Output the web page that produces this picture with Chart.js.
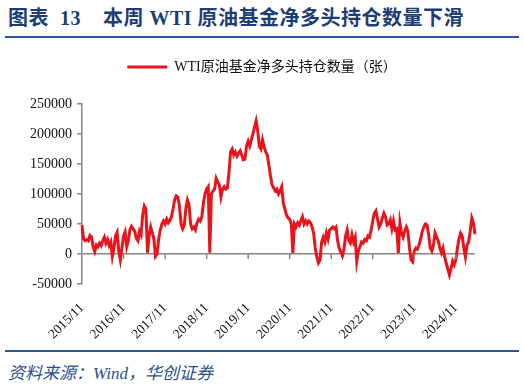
<!DOCTYPE html>
<html>
<head>
<meta charset="utf-8">
<script src="https://cdn.jsdelivr.net/npm/chart.js@4.4.1/dist/chart.umd.min.js"></script>
<style>
  body { margin: 0; width: 524px; height: 387px; background: #fff; position: relative; overflow: hidden;
         font-family: 'Liberation Serif', 'Noto Sans CJK SC', serif; }
  #title { position: absolute; left: 8px; top: 2px; font-size: 20px; font-weight: bold; color: #1c3d76;
           white-space: pre; letter-spacing: 0.5px; }
  .rule { position: absolute; left: 5px; width: 514px; height: 2px; background: #2c5696; }
  #chartBox { position: absolute; left: 0; top: 44px; width: 524px; height: 300px; }
  #source { position: absolute; left: 8px; top: 359px; font-size: 17px; font-style: italic; color: #2b4f8c; }
</style>
</head>
<body>
<div id="title">图表  13    本周 WTI 原油基金净多头持仓数量下滑</div>
<div class="rule" style="top:36px"></div>
<div id="chartBox"><canvas id="wtiChart"></canvas></div>
<div class="rule" style="top:350px"></div>
<div id="source">资料来源：Wind，华创证券</div>

<script>
// WTI crude fund net long positions, biweekly, 2015/11 - 2025/05 (contracts)
const seriesName = 'WTI原油基金净多头持仓数量（张）';
const yearTicks = ['2015/11', '2016/11', '2017/11', '2018/11', '2019/11',
                   '2020/11', '2021/11', '2022/11', '2023/11', '2024/11'];
const perYear = 26;

const netLong = [
  // 2015/11 -
  48000, 25000, 22000, 24000, 22000, 31000, 28000, 12000, 4000, 15000, 12000, 18000, 14000,
  22000, 28000, 18000, 24000, 14000, 20000, -4000, 10000, 30000, 36000, 5000, -10000, 10000,
  // 2016/11 -
  30000, 37000, 12000, 22000, 40000, 46000, 42000, 38000, 26000, 22000, 38000, 32000, 65000,
  80000, 75000, 2000, 30000, 45000, 35000, 25000, -4000, 0, 25000, 40000, 50000, 55000,
  // 2017/11 -
  50000, 58000, 52000, 56000, 62000, 75000, 90000, 97000, 95000, 80000, 50000, 42000, 48000,
  75000, 90000, 82000, 50000, 42000, 45000, 40000, 52000, 58000, 55000, 62000, 85000, 100000,
  // 2018/11 -
  108000, 112000, 2000, 100000, 105000, 108000, 126000, 120000, 115000, 95000, 108000, 112000, 108000,
  110000, 135000, 170000, 175000, 165000, 170000, 163000, 168000, 172000, 165000, 157000, 158000, 180000,
  // 2019/11 -
  188000, 180000, 190000, 200000, 212000, 222000, 205000, 180000, 175000, 190000, 178000, 170000, 165000,
  148000, 130000, 115000, 110000, 105000, 108000, 100000, 105000, 112000, 85000, 75000, 65000, 60000,
  // 2020/11 -
  58000, 50000, 2000, 50000, 45000, 52000, 48000, 55000, 62000, 50000, 55000, 50000, 55000,
  52000, 45000, 35000, 10000, -5000, -15000, -10000, 20000, 28000, 20000, 35000, 25000, 40000,
  // 2021/11 -
  42000, 45000, 42000, 45000, 22000, 10000, 3000, -3000, 8000, 30000, 40000, 22000, 18000,
  32000, 20000, 28000, -12000, 5000, 12000, 20000, 18000, 24000, 22000, 30000, 28000, 40000,
  // 2022/11 -
  55000, 68000, 72000, 58000, 45000, 50000, 60000, 68000, 62000, 48000, 50000, 57000, 42000,
  55000, 40000, 42000, 2000, 52000, 35000, 28000, 38000, 45000, 38000, 10000, -10000, -13000,
  // 2023/11 -
  5000, 10000, 8000, 15000, 25000, 38000, 45000, 50000, 48000, 32000, 10000, 5000, 15000,
  35000, 28000, 22000, 10000, 2000, 10000, -5000, -15000, -25000, -35000, -25000, -12000, -18000,
  // 2024/11 -
  -10000, 10000, 25000, 35000, 30000, 10000, -5000, 15000, 20000, 38000, 60000, 52000, 33000
];

const periods = netLong.map((_, i) => i);

const lineRed = '#e8141c';
const axisGray = '#868686';
const fontFamily = "'Liberation Serif', 'Noto Sans CJK SC', serif";

// legend sizing/centering + small downward tick marks on the zero line
const chartTweaks = {
  id: 'chartTweaks',
  beforeInit(chart) {
    const fit = chart.legend.fit;
    chart.legend.fit = function () {
      fit.call(this);
      this.height = 60;
    };
  },
  afterUpdate(chart) {
    // centre the legend on the whole canvas, not on the padded area
    chart.legend.left = 0;
    chart.legend.right = chart.width;
    chart.legend.adjustHitBoxes();
  },
  afterDatasetsDraw(chart) {
    const { ctx, scales: { x, y } } = chart;
    const y0 = y.getPixelForValue(0);
    ctx.save();
    ctx.strokeStyle = axisGray;
    ctx.lineWidth = 1.5;
    periods.forEach((p, i) => {
      if (i % perYear !== 0 || i === 0) return;
      const px = x.getPixelForValue(i);
      ctx.beginPath();
      ctx.moveTo(px, y0);
      ctx.lineTo(px, y0 + 5);
      ctx.stroke();
    });
    ctx.restore();
  }
};

new Chart(document.getElementById('wtiChart'), {
  type: 'line',
  data: {
    labels: periods,
    datasets: [{
      label: seriesName,
      data: netLong,
      borderColor: lineRed,
      backgroundColor: lineRed,
      borderWidth: 3,
      pointRadius: 0,
      tension: 0
    }]
  },
  options: {
    responsive: true,
    maintainAspectRatio: false,
    animation: false,
    layout: { padding: { left: 0, right: 49, top: 0, bottom: 0 } },
    plugins: {
      legend: {
        position: 'top',
        labels: {
          boxWidth: 40,
          boxHeight: 3,
          padding: 16,
          color: '#111',
          font: { size: 14, family: fontFamily },
          generateLabels: chart => Chart.defaults.plugins.legend.labels.generateLabels(chart)
            .map(item => ({ ...item, lineWidth: 0 }))
        }
      },
      tooltip: { enabled: false }
    },
    scales: {
      x: {
        type: 'category',
        grid: { display: false },
        border: { display: false },
        afterFit: scale => { scale.height = 60; },
        ticks: {
          autoSkip: false,
          minRotation: 45,
          maxRotation: 45,
          padding: 8,
          color: '#111',
          font: { size: 13.5, family: fontFamily },
          callback: (val, i) => (i % perYear === 0 ? yearTicks[i / perYear] : null)
        }
      },
      y: {
        min: -50000,
        max: 250000,
        afterFit: scale => { scale.width = 82; },
        border: { color: axisGray, width: 1.5 },
        grid: {
          drawOnChartArea: true,
          color: c => (c.tick && c.tick.value === 0 ? axisGray : 'rgba(0,0,0,0)'),
          lineWidth: 1.5,
          tickColor: axisGray,
          tickLength: 5
        },
        ticks: {
          stepSize: 50000,
          padding: 5,
          color: '#111',
          font: { size: 14, family: fontFamily },
          callback: v => String(v)
        }
      }
    }
  },
  plugins: [chartTweaks]
});
</script>
</body>
</html>
